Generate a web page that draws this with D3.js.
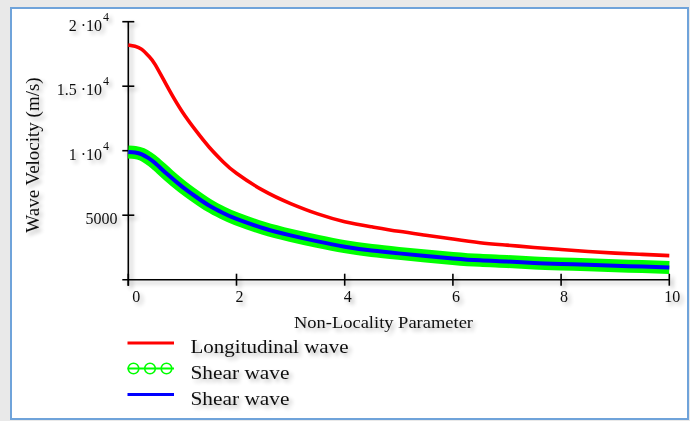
<!DOCTYPE html>
<html>
<head>
<meta charset="utf-8">
<script src="https://cdn.jsdelivr.net/npm/d3@7"></script>
<style>
  html, body { margin: 0; padding: 0; background: #e9e9e9; }
  svg { display: block; }
  text { font-family: "Liberation Serif", "DejaVu Serif", serif; fill: #111; }
</style>
</head>
<body>
<div id="chart"></div>
<script>
// Non-locality parameter (x) and the three read-off curves (m/s)
const param = [0, 0.125, 0.25, 0.375, 0.5, 0.75, 1, 1.25, 1.5, 1.75, 2, 2.5, 3, 3.5, 4, 4.5, 5, 5.5, 6, 6.5, 7, 7.5, 8, 8.5, 9, 9.5, 10];
const longitudinal = [18200, 18100, 17850, 17350, 16650, 14750, 13000, 11550, 10250, 9150, 8250, 6900, 5900, 5100, 4500, 4100, 3750, 3450, 3150, 2870, 2680, 2500, 2340, 2190, 2060, 1960, 1870];
const shearCircles = [9900, 9860, 9720, 9420, 9020, 8070, 7200, 6430, 5730, 5170, 4710, 3990, 3440, 2970, 2560, 2260, 2040, 1840, 1650, 1500, 1410, 1300, 1220, 1150, 1080, 1020, 950];
const shearLine = [9900, 9860, 9720, 9420, 9020, 8070, 7200, 6430, 5730, 5170, 4710, 3990, 3440, 2970, 2560, 2260, 2040, 1840, 1650, 1500, 1410, 1300, 1220, 1150, 1080, 1020, 950];

const xTickValues = [0, 2, 4, 6, 8, 10];
const yTickValues = [5000, 10000, 15000, 20000];
const yTickBase = ["5000", "1 \u00b710", "1.5 \u00b710", "2 \u00b710"];
const yTickExp = ["", "4", "4", "4"];
const legendNames = ["Longitudinal wave", "Shear wave", "Shear wave"];

const w = 690, h = 421;

const svg = d3.select('#chart').append('svg')
  .attr('width', w)
  .attr('height', h);

// soft grey shadow used under the texts
const defs = svg.append('defs');
const f = defs.append('filter').attr('id', 'shadow')
  .attr('x', '-20%').attr('y', '-40%').attr('width', '150%').attr('height', '220%');
f.append('feGaussianBlur').attr('in', 'SourceAlpha').attr('stdDeviation', 2.2).attr('result', 'b');
f.append('feOffset').attr('in', 'b').attr('dx', 3).attr('dy', 3).attr('result', 'o');
f.append('feComponentTransfer').attr('in', 'o').attr('result', 'o2')
  .append('feFuncA').attr('type', 'linear').attr('slope', 0.3);
const fm = f.append('feMerge');
fm.append('feMergeNode').attr('in', 'o2');
fm.append('feMergeNode').attr('in', 'SourceGraphic');

// frame
svg.append('rect')
  .attr('x', 11).attr('y', 8)
  .attr('width', 677).attr('height', 411)
  .attr('fill', '#fff')
  .attr('stroke', '#6fa3da')
  .attr('stroke-width', 2);

const xScale = d3.scaleLinear().domain([0, 10]).range([128.3, 669.3]);
const yScale = d3.scaleLinear().domain([0, 20000]).range([279.7, 21.7]);

const rows = param.map((p, i) => ({x: p, l: longitudinal[i], s1: shearCircles[i], s2: shearLine[i]}));

const line = key => d3.line()
  .x(d => xScale(d.x))
  .y(d => yScale(d[key]))
  .curve(d3.curveNatural);

const axes = svg.append('g').attr('filter', 'url(#shadow)');

// axis lines
axes.append('line')
  .attr('x1', xScale(0)).attr('x2', xScale(0))
  .attr('y1', yScale(20000)).attr('y2', yScale(0) + 6)
  .attr('stroke', '#000').attr('stroke-width', 1.6);
axes.append('line')
  .attr('x1', xScale(0) - 6).attr('x2', xScale(10))
  .attr('y1', yScale(0)).attr('y2', yScale(0))
  .attr('stroke', '#000').attr('stroke-width', 1.6);

axes.selectAll('.ytick')
  .data(yTickValues)
  .enter()
  .append('line')
  .attr('class', 'ytick')
  .attr('x1', xScale(0) - 6).attr('x2', xScale(0) + 6)
  .attr('y1', d => yScale(d)).attr('y2', d => yScale(d))
  .attr('stroke', '#000').attr('stroke-width', 1.6);

axes.selectAll('.xtick')
  .data(xTickValues)
  .enter()
  .append('line')
  .attr('class', 'xtick')
  .attr('x1', d => xScale(d)).attr('x2', d => xScale(d))
  .attr('y1', yScale(0) - 6).attr('y2', yScale(0) + 6)
  .attr('stroke', '#000').attr('stroke-width', 1.6);

// curves
svg.append('path')
  .datum(rows)
  .attr('d', line('s1'))
  .attr('fill', 'none')
  .attr('stroke', '#00ff00')
  .attr('stroke-width', 13);

svg.append('path')
  .datum(rows)
  .attr('d', line('l'))
  .attr('fill', 'none')
  .attr('stroke', '#ff0000')
  .attr('stroke-width', 3.6);

svg.append('path')
  .datum(rows)
  .attr('d', line('s2'))
  .attr('fill', 'none')
  .attr('stroke', '#0000ff')
  .attr('stroke-width', 4);

// texts
const texts = svg.append('g').attr('filter', 'url(#shadow)');

texts.selectAll('.xlab')
  .data(xTickValues)
  .enter()
  .append('text')
  .attr('class', 'xlab')
  .attr('x', d => xScale(d) + (d === 0 ? 8 : 3))
  .attr('y', 302)
  .attr('text-anchor', 'middle')
  .style('font-size', '16px')
  .text(d => d);

yTickValues.forEach((v, i) => {
  const t = texts.append('text')
    .attr('x', yTickExp[i] ? 109 : 117.5)
    .attr('y', yScale(v) + 9)
    .attr('text-anchor', 'end')
    .style('font-size', '16px');
  t.append('tspan').text(yTickBase[i]);
  if (yTickExp[i]) {
    t.append('tspan')
      .attr('dy', -10)
      .attr('dx', 1)
      .style('font-size', '12px')
      .text(yTickExp[i]);
  }
});

texts.append('text')
  .attr('transform', 'translate(39,155) rotate(-90)')
  .attr('text-anchor', 'middle')
  .style('font-size', '19px')
  .text('Wave Velocity (m/s)');

texts.append('text')
  .attr('x', 294)
  .attr('y', 328)
  .attr('textLength', 179)
  .attr('lengthAdjust', 'spacingAndGlyphs')
  .style('font-size', '17px')
  .text('Non-Locality Parameter');

// legend
const legendY = [343, 368.5, 394.5];
const legendColors = ['#ff0000', '#00ff00', '#0000ff'];
const legendWidths = [158, 99, 99];

const lg = svg.append('g');
legendNames.forEach((name, i) => {
  lg.append('line')
    .attr('x1', 127.5).attr('x2', 174)
    .attr('y1', legendY[i]).attr('y2', legendY[i])
    .attr('stroke', legendColors[i])
    .attr('stroke-width', i === 1 ? 2 : 3);
  if (i === 1) {
    lg.selectAll('.lc')
      .data([133.5, 150, 166.5])
      .enter()
      .append('circle')
      .attr('class', 'lc')
      .attr('cx', d => d).attr('cy', legendY[i])
      .attr('r', 5.3)
      .attr('fill', 'none')
      .attr('stroke', legendColors[i])
      .attr('stroke-width', 1.6);
  }
  texts.append('text')
    .attr('x', 190.5)
    .attr('y', legendY[i] + 10)
    .attr('textLength', legendWidths[i])
    .attr('lengthAdjust', 'spacingAndGlyphs')
    .style('font-size', '19px')
    .text(name);
});
</script>
</body>
</html>
